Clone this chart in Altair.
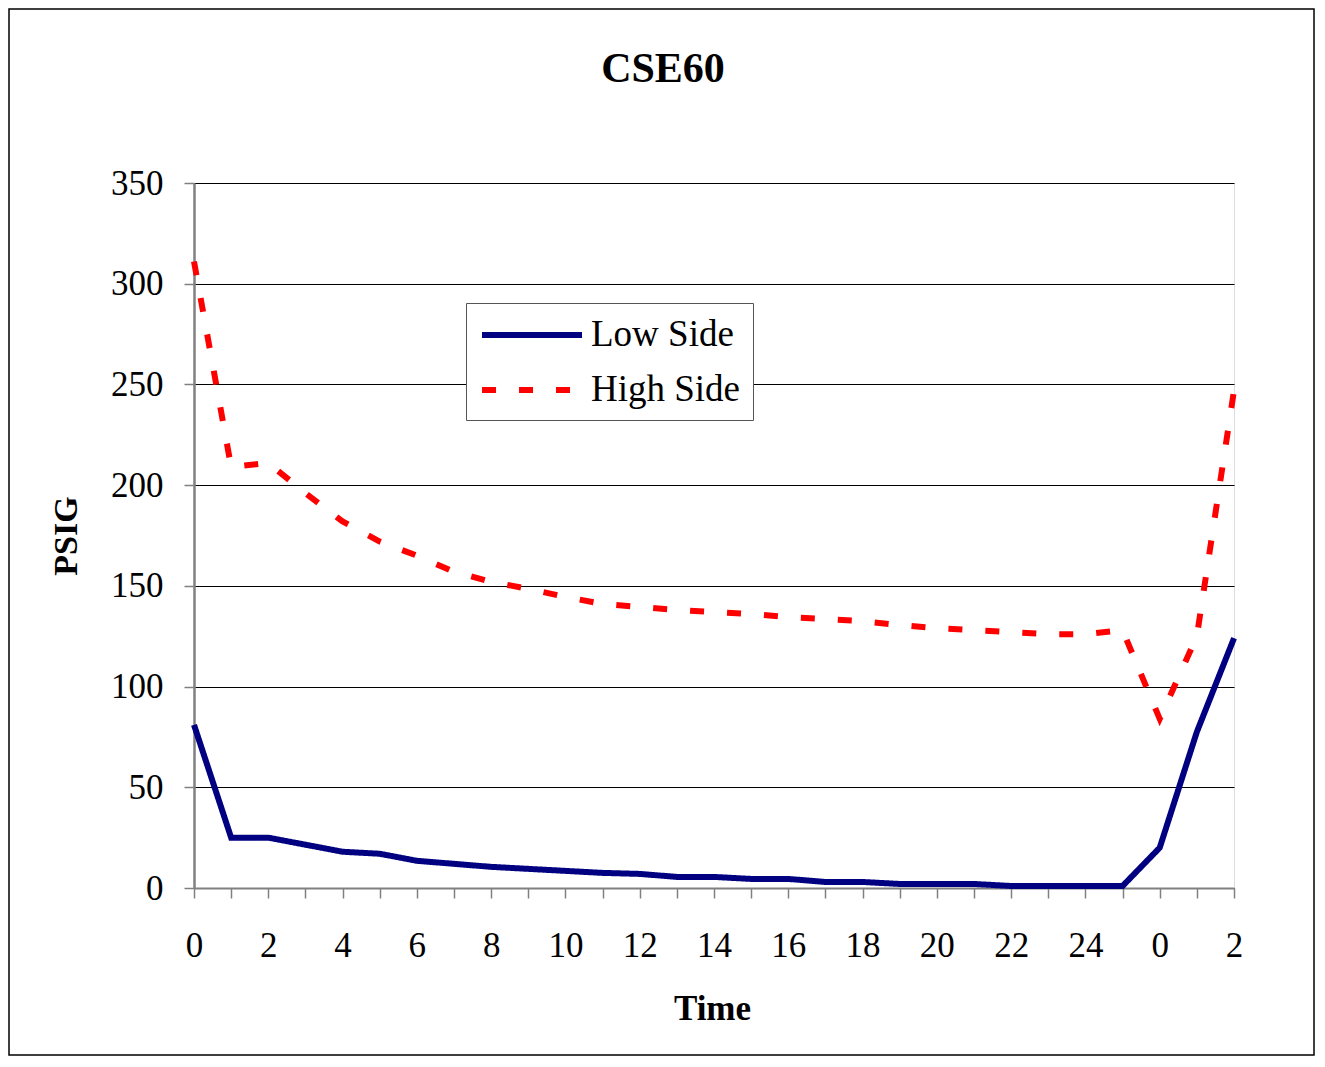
import altair as alt
import pandas as pd

tick_labels = ["0", "1", "2", "3", "4", "5", "6", "7", "8", "9", "10", "11", "12", "13",
               "14", "15", "16", "17", "18", "19", "20", "21", "22", "23", "24", "25",
               "0", "1", "2"]
low_side = [81, 25, 25, 21.5, 18, 17, 13.5, 12, 10.5, 9.5, 8.5, 7.5, 7, 5.5, 5.5, 4.5,
            4.5, 3, 3, 2, 2, 2, 1, 1, 1, 1, 20, 77.5, 124]
high_side = [311, 209, 211, 196, 182, 172, 165, 157, 152, 148.5, 144.5, 141, 139.5, 138,
             137, 136, 134.5, 133.5, 132.5, 130.5, 129, 128, 127, 126, 126, 128, 84, 125, 247]
series = ["Low Side", "High Side"]

rows = []
for i, lab in enumerate(tick_labels):
    rows.append({"idx": i, "label": lab, "series": "Low Side", "value": low_side[i]})
    rows.append({"idx": i, "label": lab, "series": "High Side", "value": high_side[i]})
df = pd.DataFrame(rows)

FONT = "Liberation Serif"
W, H = 1040, 705

label_arr = "[" + ",".join("'" + s + "'" for s in tick_labels) + "]"

lines = alt.Chart(df).mark_line(strokeWidth=6, clip=False).encode(
    x=alt.X("idx:Q", scale=alt.Scale(domain=[0, len(tick_labels) - 1], nice=False, zero=False),
            axis=alt.Axis(values=list(range(len(tick_labels))),
                          labelExpr=f"datum.value % 2 == 0 ? {label_arr}[datum.value] : ''",
                          title="Time", grid=False, tickSize=10, tickColor="#808080",
                          tickWidth=1.5, domainColor="#808080", domainWidth=2,
                          labelFont=FONT, labelFontSize=35, labelColor="#000",
                          labelPadding=30, labelFlush=False, labelOverlap=False,
                          titleFont=FONT, titleFontSize=35, titleFontWeight="bold",
                          titleColor="#000", titlePadding=28, titleX=518)),
    y=alt.Y("value:Q", scale=alt.Scale(domain=[0, 350], nice=False),
            axis=alt.Axis(values=[0, 50, 100, 150, 200, 250, 300, 350], title="PSIG",
                          grid=True, gridColor="#000000", gridWidth=1.2,
                          tickSize=10, tickColor="#808080", tickWidth=1.5,
                          domainColor="#808080", domainWidth=2.5,
                          labelFont=FONT, labelFontSize=35, labelColor="#000",
                          labelPadding=21,
                          titleFont=FONT, titleFontSize=34, titleFontWeight="bold",
                          titleColor="#000", titleX=-128, titleBaseline="middle")),
    color=alt.Color("series:N", scale=alt.Scale(domain=series, range=["#000080", "#FF0000"]),
                    legend=alt.Legend(title=None, orient="none", legendX=272, legendY=120,
                                      symbolType="M-2.94,0H2.94", symbolSize=1156,
                                      symbolStrokeWidth=6, symbolFillColor="transparent",
                                      symbolOffset=34, labelOffset=39,
                                      labelFont=FONT, labelFontSize=37, labelColor="#000",
                                      strokeColor="#555", fillColor="#fff",
                                      padding=12, rowPadding=17)),
    strokeDash=alt.StrokeDash("series:N",
                              scale=alt.Scale(domain=series, range=[[1, 0], [14, 23]]),
                              legend=None),
    detail="series:N",
)

border = alt.Chart(pd.DataFrame({"a": [0]})).mark_rect(
    fill=None, stroke="#000", strokeWidth=1.5, clip=False
).encode(x=alt.value(-185), x2=alt.value(1120), y=alt.value(-174), y2=alt.value(872))

chart = alt.layer(border, lines).properties(
    width=W, height=H,
    title=alt.TitleParams("CSE60", font=FONT, fontSize=42, fontWeight="bold",
                          color="#000", offset=-116, dx=-51, anchor="middle",
                          frame="group", baseline="alphabetic"),
    autosize=alt.AutoSizeParams(type="none"),
    padding={"left": 186, "top": 175, "right": 82, "bottom": 168},
).configure_view(stroke="#808080", strokeWidth=2).configure(background="#ffffff")

chart.save("out.html", embed_options={"renderer": "svg", "actions": False})
